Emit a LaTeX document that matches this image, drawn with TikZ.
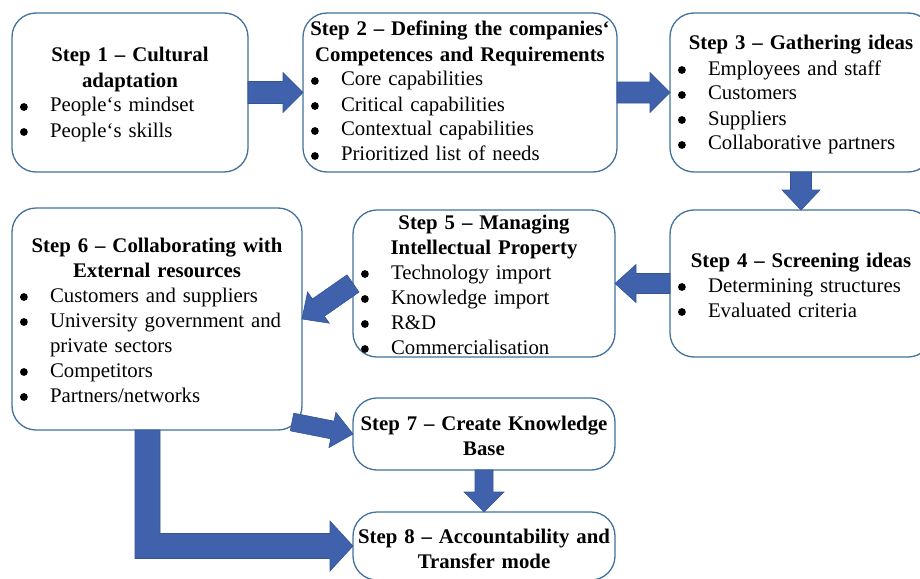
\documentclass[tikz,border=0pt]{standalone}
\usepackage{fontspec}
\setmainfont{Liberation Serif}
\usetikzlibrary{calc}
\definecolor{arrowblue}{RGB}{64,98,172}
\definecolor{arrowedge}{RGB}{52,84,150}
\definecolor{boxline}{RGB}{65,113,156}
\newcommand\bulmark{\tikz[baseline=-5pt]\fill[black] (0,0) circle (3.9pt);}
\newcommand\bul[1]{\par\hangindent=30pt\hangafter=1\noindent\makebox[30pt][l]{\bulmark}#1\strut}
\newcommand\tline[1]{\noindent\hbox to\linewidth{\hss\bfseries\strut #1\hss}\par}
\newcommand\blockarrow[5]{%
  \coordinate (hb) at ($(#2)!#5!(#1)$);
  \fill[arrowfill] ($(#1)!#3!90:(#2)$) -- ($(hb)!#3!90:(#2)$) -- ($(hb)!#4!90:(#2)$) -- (#2)
    -- ($(hb)!#4!-90:(#2)$) -- ($(hb)!#3!-90:(#2)$) -- ($(#1)!#3!-90:(#2)$) -- cycle;
}
\begin{document}
\begin{tikzpicture}[x=1pt,y=-1pt,
  stepbox/.style={draw=boxline, line width=1.3pt, fill=white, rounded corners=24pt, inner sep=0pt, outer sep=0pt},
  steptext/.style={anchor=north west, inner sep=0pt, outer sep=0pt, font=\fontsize{20.8}{25}\selectfont, align=left},
  arrowfill/.style={fill=arrowblue, draw=arrowedge, line width=0.6pt, line join=miter}]
\clip (0,0) rectangle (920,578);
% boxes
\node[stepbox, minimum width=236pt, minimum height=159pt] (b1) at (130,92.5) {};
\node[stepbox, minimum width=314pt, minimum height=159pt] (b2) at (460,92.5) {};
\node[stepbox, minimum width=262pt, minimum height=159pt] (b3) at (801,92.5) {};
\node[stepbox, minimum width=262pt, minimum height=147pt] (b4) at (801,283.5) {};
\node[stepbox, minimum width=262pt, minimum height=147pt] (b5) at (484,283.5) {};
\node[stepbox, minimum width=290pt, minimum height=222pt] (b6) at (157,319) {};
\node[stepbox, minimum width=262pt, minimum height=72pt] (b7) at (484,434) {};
\node[stepbox, minimum width=262pt, minimum height=68pt] (b8) at (484,546) {};
% texts
\node[steptext, text width=220pt] (t1) at ($(b1.north west)+(8,31.5)$)
  {\tline{Step 1 – Cultural}\tline{adaptation}\bul{People‘s mindset}\bul{People‘s skills}};
\node[steptext, text width=298pt] (t2) at ($(b2.north west)+(8,5.5)$)
  {\tline{Step 2 – Defining the companies‘}\tline{Competences and Requirements}\bul{Core capabilities}\bul{Critical capabilities}\bul{Contextual capabilities}\bul{Prioritized list of needs}};
\node[steptext, text width=246pt] (t3) at ($(b3.north west)+(8,19.5)$)
  {\tline{Step 3 – Gathering ideas}\bul{Employees and staff}\bul{Customers}\bul{Suppliers}\bul{Collaborative partners}};
\node[steptext, text width=246pt] (t4) at ($(b4.north west)+(8,39.5)$)
  {\tline{Step 4 – Screening ideas}\bul{Determining structures}\bul{Evaluated criteria}};
\node[steptext, text width=246pt] (t5) at ($(b5.north west)+(8,1.5)$)
  {\tline{Step 5 – Managing}\tline{Intellectual Property}\bul{Technology import}\bul{Knowledge import}\bul{R\&D}\bul{Commercialisation}};
\node[steptext, text width=274pt] (t6) at ($(b6.north west)+(8,26.5)$)
  {\tline{Step 6 – Collaborating with}\tline{External resources}\bul{Customers and suppliers}\bul{University government and\newline private sectors}\bul{Competitors}\bul{Partners/networks}};
\node[steptext, text width=262pt] (t7) at ($(b7.north west)+(0,14.5)$)
  {\tline{Step 7 – Create Knowledge}\tline{Base}};
\node[steptext, text width=262pt] (t8) at ($(b8.north west)+(0,13.5)$)
  {\tline{Step 8 – Accountability and}\tline{Transfer mode}};
% arrows
\blockarrow{b1.east}{b2.west}{11pt}{20pt}{20pt}
\blockarrow{b2.east}{b3.west}{10.5pt}{20pt}{20pt}
\blockarrow{b3.south}{b4.north}{10.5pt}{19pt}{20pt}
\blockarrow{b4.west}{b5.east}{10pt}{19pt}{21pt}
\blockarrow{b5.west}{b6.east}{10.5pt}{19pt}{20pt}
\coordinate (s67) at ($(b6.south east)+(-10,-8)$);
\blockarrow{s67}{b7.west}{9pt}{18pt}{21pt}
\blockarrow{b7.south}{b8.north}{9pt}{20pt}{20pt}
% elbow arrow from step 6 to step 8
\coordinate (e1) at ($(b6.south)+(-9.5,0)$);
\coordinate (e2) at (b8.west);
\coordinate (ek) at (e1 |- e2);
\fill[arrowfill] ($(e1)+(-12.5,0)$) -- ($(ek)+(-12.5,12.5)$) -- ($(e2)+(-23,12.5)$) -- ($(e2)+(-23,25)$)
  -- (e2) -- ($(e2)+(-23,-25)$) -- ($(e2)+(-23,-12.5)$) -- ($(ek)+(12.5,-12.5)$) -- ($(e1)+(12.5,0)$) -- cycle;
\end{tikzpicture}
\end{document}
